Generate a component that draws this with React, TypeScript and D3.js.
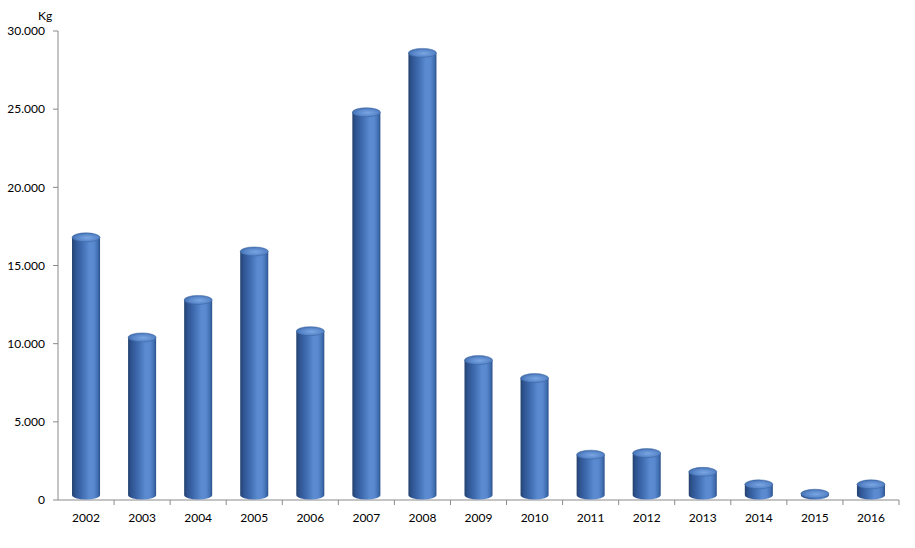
import React from "react";
import * as d3 from "d3";

const years = ["2002","2003","2004","2005","2006","2007","2008","2009","2010","2011","2012","2013","2014","2015","2016"];
const values = [16800,10400,12800,15900,10800,24800,28600,8950,7800,2900,3000,1800,1000,400,1000];
const yTicks = [0,5000,10000,15000,20000,25000,30000];
const yTickLabels = ["0","5.000","10.000","15.000","20.000","25.000","30.000"];
const yUnit = "Kg";

const W = 915, H = 548;
const FONT = "Lato, 'Open Sans', sans-serif";

export default function App() {
  const x = d3.scaleBand<string>().domain(years).range([58, 899]).paddingInner(0.5).paddingOuter(0.25);
  const y = d3.scaleLinear().domain([0, 30000]).range([500, 31]);
  const bw = x.bandwidth();
  const rx = bw / 2;
  const ry = 4.5;
  const base = y(0) - 5;
  const step = x.step();
  const axisColor = "#8a8a8a";

  return (
    <svg width={W} height={H} style={{ position: "absolute", left: 0, top: 0, background: "#fff" }}>
      <defs>
        <linearGradient id="body" x1="0" x2="1" y1="0" y2="0">
          <stop offset="0" stopColor="#24426f" />
          <stop offset="0.12" stopColor="#2f5491" />
          <stop offset="0.35" stopColor="#3f6bb0" />
          <stop offset="0.62" stopColor="#5b8bd1" />
          <stop offset="0.78" stopColor="#5a89cf" />
          <stop offset="0.92" stopColor="#416fb2" />
          <stop offset="1" stopColor="#2c5089" />
        </linearGradient>
        <radialGradient id="top" cx="0.55" cy="0.55" r="0.6">
          <stop offset="0" stopColor="#7aa6e2" />
          <stop offset="0.6" stopColor="#5a88cb" />
          <stop offset="1" stopColor="#3d69a8" />
        </radialGradient>
      </defs>
      <line x1={58} x2={58} y1={y(30000)} y2={y(0)} stroke={axisColor} strokeWidth={1} />
      {yTicks.map((t, i) => (
        <g key={t}>
          <line x1={53} x2={58} y1={y(t)} y2={y(t)} stroke={axisColor} />
          <text x={45} y={y(t)} dy="0.35em" textAnchor="end" fontFamily={FONT} fontSize={12} fill="#000">
            {yTickLabels[i]}
          </text>
        </g>
      ))}
      <text x={38} y={20} fontFamily={FONT} fontSize={12} fill="#000">{yUnit}</text>
      <line x1={58} x2={899} y1={y(0)} y2={y(0)} stroke={axisColor} />
      {years.map((yr, i) => (
        <line key={"t" + yr} x1={58 + (i + 1) * step} x2={58 + (i + 1) * step} y1={y(0)} y2={y(0) + 5} stroke={axisColor} />
      ))}
      {years.map((yr) => (
        <text key={"l" + yr} x={(x(yr) as number) + bw / 2} y={518} dy="0.35em" textAnchor="middle" fontFamily={FONT} fontSize={12} fill="#000">
          {yr}
        </text>
      ))}
      {years.map((yr, i) => {
        const xl = x(yr) as number;
        const xr = xl + bw;
        const cx = xl + rx;
        const yt = Math.min(y(values[i]), base);
        const d = `M${xl},${yt} V${base} A${rx},${ry} 0 0 0 ${xr},${base} V${yt} Z`;
        return (
          <g key={"b" + yr}>
            <path d={d} fill="url(#body)" />
            <ellipse cx={cx} cy={yt} rx={rx} ry={ry} fill="url(#top)" stroke="#3a64a0" strokeWidth={0.5} />
          </g>
        );
      })}
    </svg>
  );
}
